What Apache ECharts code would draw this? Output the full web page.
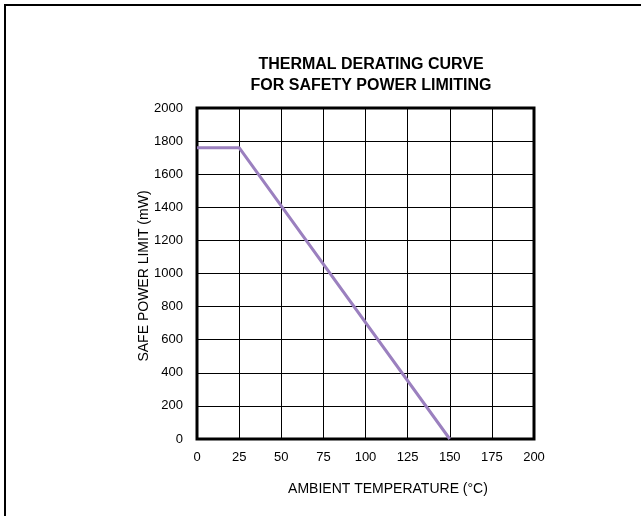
<!DOCTYPE html>
<html>
<head>
<meta charset="utf-8">
<script src="https://cdn.jsdelivr.net/npm/echarts@6/dist/echarts.min.js"></script>
<style>
html,body{margin:0;padding:0;background:#fff;}
#chart{width:641px;height:516px;}
</style>
</head>
<body>
<div id="chart"></div>
<script>
const titleLines = ['THERMAL DERATING CURVE', 'FOR SAFETY POWER LIMITING'];
const xName = 'AMBIENT TEMPERATURE (°C)';
const yName = 'SAFE POWER LIMIT (mW)';
const temperature = [0, 25, 150];
const powerLimit = [1760, 1760, 0];

const font = '"Liberation Sans", Arial, sans-serif';
const chart = echarts.init(document.getElementById('chart'));
chart.setOption({
  animation: false,
  backgroundColor: '#fff',
  title: {
    text: titleLines.join('\n'),
    left: 366,
    top: 49,
    textAlign: 'center',
    textStyle: { fontFamily: font, fontSize: 16, fontWeight: 'bold', color: '#000', lineHeight: 21 }
  },
  grid: { left: 197, right: 107, top: 108, bottom: 77, show: true, borderColor: '#000', borderWidth: 3, backgroundColor: 'transparent' },
  graphic: [{
    type: 'polyline',
    shape: { points: [[5, 516], [5, 5], [641, 5]] },
    style: { stroke: '#000', lineWidth: 2, fill: null }
  }, {
    type: 'text',
    x: 388, y: 489,
    style: { text: xName, fontFamily: font, fontSize: 14, fill: '#000', textAlign: 'center', textVerticalAlign: 'middle' }
  }, {
    type: 'text',
    x: 144, y: 276, rotation: Math.PI / 2,
    style: { text: yName, fontFamily: font, fontSize: 14, fill: '#000', textAlign: 'center', textVerticalAlign: 'middle' }
  }],
  xAxis: {
    type: 'value', min: 0, max: 200, interval: 25,
    axisLine: { show: false }, axisTick: { show: false },
    axisLabel: { fontFamily: font, fontSize: 13, color: '#000', margin: 12 },
    splitLine: { show: true, lineStyle: { color: '#000', width: 1 } }
  },
  yAxis: {
    type: 'value', min: 0, max: 2000, interval: 200,
    axisLine: { show: false }, axisTick: { show: false },
    axisLabel: { fontFamily: font, fontSize: 13, color: '#000', margin: 14, formatter: v => String(v) },
    splitLine: { show: true, lineStyle: { color: '#000', width: 1 } }
  },
  series: [{
    type: 'line',
    data: temperature.map((t, i) => [t, powerLimit[i]]),
    symbol: 'none',
    lineStyle: { color: '#9b80bf', width: 3 },
    z: 3
  }]
});
</script>
</body>
</html>
